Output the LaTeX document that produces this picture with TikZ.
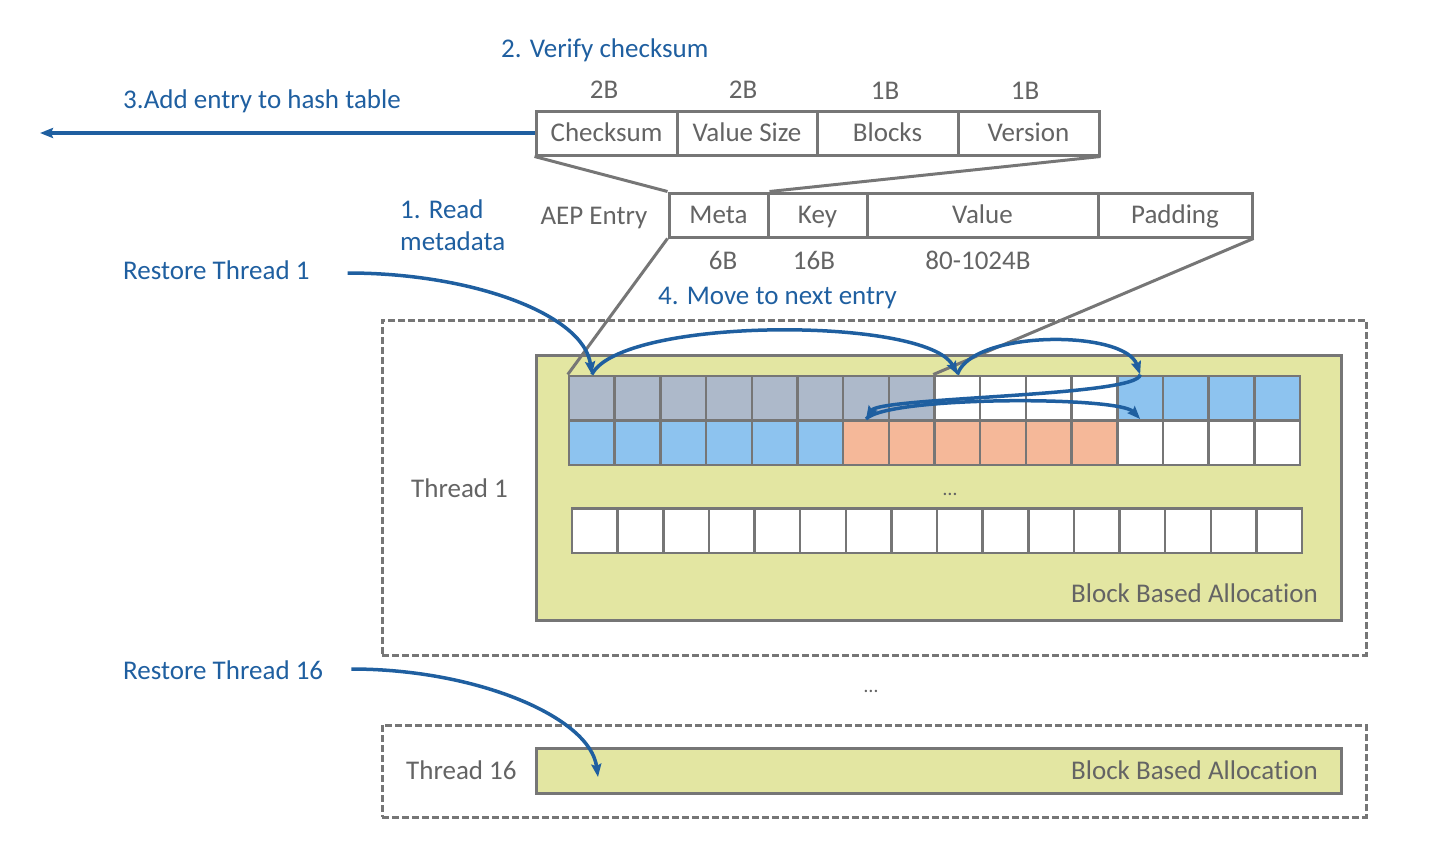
\documentclass[tikz,border=0pt]{standalone}
\usepackage{fontspec}
\setmainfont{Carlito}[Ligatures=NoCommon]
\usetikzlibrary{arrows.meta}
\definecolor{tblue}{RGB}{31,95,160}
\definecolor{tgray}{RGB}{100,100,100}
\definecolor{lgray}{RGB}{118,118,118}
\definecolor{ayellow}{RGB}{227,230,162}
\definecolor{cgray}{RGB}{173,185,202}
\definecolor{cblue}{RGB}{141,195,239}
\definecolor{csalmon}{RGB}{245,184,153}
\begin{document}
\begin{tikzpicture}[x=1pt,y=-1pt,
  lbl/.style={font=\fontsize{27}{32}\selectfont, text height=19pt, text depth=2pt, inner sep=0pt},
  bluelbl/.style={lbl, text=tblue},
  graylbl/.style={lbl, text=tgray},
  field/.style={graylbl, draw=lgray, line width=3pt, minimum height=44pt, fill=white},
  cellbox/.style={draw=lgray, line width=2.5pt, minimum width=45.69pt, minimum height=44.5pt, inner sep=0pt},
  dashbox/.style={draw=lgray, line width=3pt, dash pattern=on 7pt off 3pt, minimum width=984pt},
  allocbox/.style={draw=lgray, line width=3pt, fill=ayellow, minimum width=805pt},
  guide/.style={draw=lgray, line width=3pt},
  flow/.style={draw=tblue, line width=3.5pt, -{Stealth[length=13pt,width=10pt,inset=2pt]}}
]
\useasboundingbox (0,0) rectangle (1454,854);

% thread boxes
\node[dashbox, minimum height=335pt] (th1) at (874,487.5) {};
\node[allocbox, minimum height=265pt] (alloc1) at (938.5,487.5) {};
\node[dashbox, minimum height=92pt] (th16) at (874,771) {};
\node[allocbox, minimum height=45pt] (alloc16) at (938.5,770.5) {};

% block grid
\foreach \i/\c in {0/cgray,1/cgray,2/cgray,3/cgray,4/cgray,5/cgray,6/cgray,7/cgray,8/white,9/white,10/white,11/white,12/cblue,13/cblue,14/cblue,15/cblue}
  \node[cellbox, fill=\c] (r1c\i) at ({569+45.69*(\i+0.5)},398) {};
\foreach \i/\c in {0/cblue,1/cblue,2/cblue,3/cblue,4/cblue,5/cblue,6/csalmon,7/csalmon,8/csalmon,9/csalmon,10/csalmon,11/csalmon,12/white,13/white,14/white,15/white}
  \node[cellbox, fill=\c] (r2c\i) at ({569+45.69*(\i+0.5)},442.5) {};
\foreach \i in {0,...,15}
  \node[cellbox, fill=white, minimum width=45.63pt] (r3c\i) at ({572+45.63*(\i+0.5)},530.5) {};

% labels in thread boxes
\node[graylbl, anchor=west] (t1lbl) at (411,489) {Thread 1};
\node[graylbl, font=\fontsize{20}{24}\selectfont] (dots1) at (950,487) {…};
\node[graylbl, anchor=east] (bba1) at (1318,594) {Block Based Allocat\kern0pt ion};
\node[graylbl, anchor=west] (t16lbl) at (406,771) {Thread 16};
\node[graylbl, anchor=east] (bba16) at (1318,771) {Block Based Allocat\kern0pt ion};
\node[graylbl, font=\fontsize{20}{24}\selectfont] (dots2) at (871,684) {…};

% metadata fields
\node[field, minimum width=141pt] (cs) at (606.5,133) {Checksum};
\node[field, minimum width=140pt] (vs) at (747,133) {Value Size};
\node[field, minimum width=141pt] (bl) at (887.5,133) {Blocks};
\node[field, minimum width=141pt] (ver) at (1028.5,133) {Version};
\node[graylbl] (s1) at (604,90) {2B};
\node[graylbl] (s2) at (743,90) {2B};
\node[graylbl] (s3) at (885,91) {1B};
\node[graylbl] (s4) at (1025,91) {1B};

% AEP entry fields
\node[field, minimum width=99pt] (meta) at (718.5,215) {Meta};
\node[field, minimum width=99pt] (key) at (817.5,215) {Key};
\node[field, minimum width=231pt] (value) at (982.5,215) {Value};
\node[field, minimum width=154pt] (pad) at (1175,215) {Padding};
\node[graylbl] (aep) at (594,216) {AEP Entry};
\node[graylbl] (z1) at (723,261) {6B};
\node[graylbl] (z2) at (814,261) {16B};
\node[graylbl] (z3) at (978,261) {80-1024B};

% guide lines
\draw[guide] (cs.south west) -- (meta.north west);
\draw[guide] (ver.south east) -- (meta.north east);
\draw[guide] (meta.south west) -- (r1c0.north west);
\draw[guide] (pad.south east) -- (r1c8.north west);

% step labels
\node[bluelbl, anchor=west] (step2) at (501,49) {2. Verify checksum};
\node[bluelbl, anchor=west] (step3) at (123,100) {3.Add entry to hash table};
\node[bluelbl, anchor=west] (step1a) at (400,210) {1. Read};
\node[bluelbl, anchor=west] (step1b) at (400,242) {metadata};
\node[bluelbl, anchor=west] (rt1) at (123,271) {Restore Thread 1};
\node[bluelbl, anchor=west] (step4) at (658,296) {4. Move to next entry};
\node[bluelbl, anchor=west] (rt16) at (123,671) {Restore Thread 16};

% arrows
\coordinate (hash) at (40,133);
\coordinate (t16tip) at (598,777);
\draw[flow] (cs.west) -- (hash);
\draw[flow] ([xshift=38pt,yshift=-2pt]rt1.east) .. controls +(125,0) and +(-8,-60) .. (r1c0.north);
\draw[flow] (r1c0.north) .. controls +(30,-58) and +(-30,-58) .. (r1c8.north);
\draw[flow] (r1c8.north) .. controls +(15,-45) and +(-15,-45) .. (r1c12.north);
\draw[flow] (r1c12.north) .. controls +(0,22) and +(14,-22) .. (r2c6.north);
\draw[flow] (r2c6.north) .. controls +(22,-23) and +(-22,-23) .. (r2c12.north);
\draw[flow] ([xshift=28pt,yshift=2pt]rt16.east) .. controls +(125,0) and +(-8,-60) .. (t16tip);
\end{tikzpicture}
\end{document}
